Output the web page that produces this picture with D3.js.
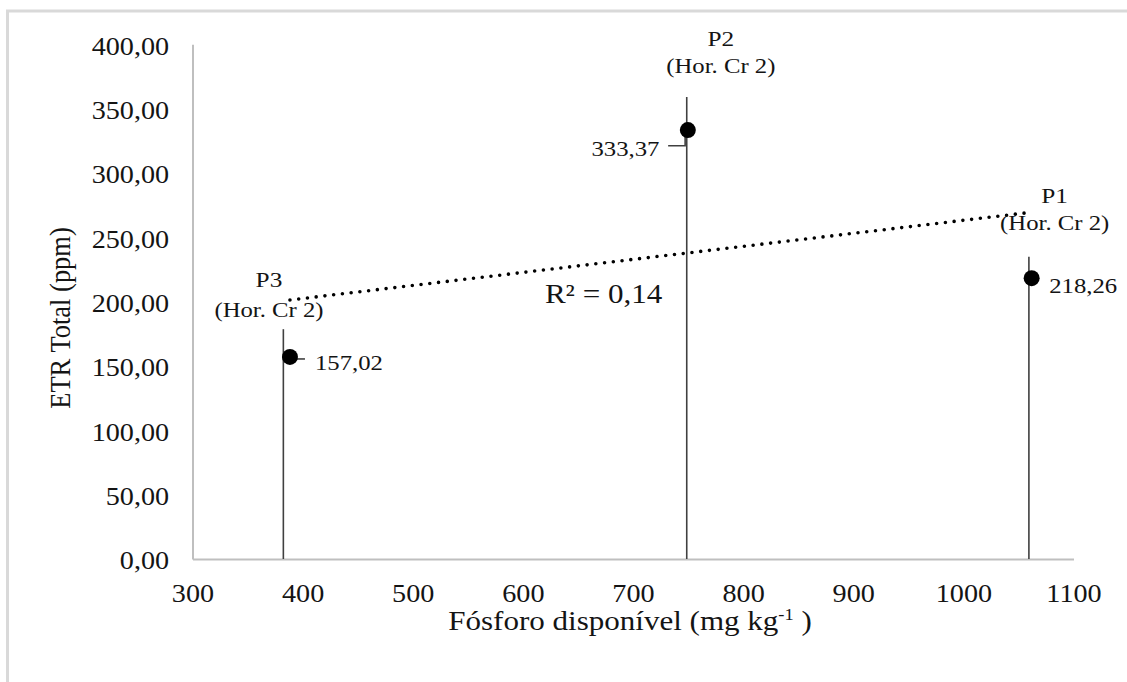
<!DOCTYPE html>
<html>
<head>
<meta charset="utf-8">
<script src="https://cdn.jsdelivr.net/npm/d3@7"></script>
<style>
  body { margin: 0; background: #fff; }
  svg { display: block; }
  text { font-family: "Liberation Serif", "Times New Roman", serif; fill: #141414; }
</style>
</head>
<body>
<svg id="chart" width="1127" height="682"></svg>
<script>
// ---- data ----
const pointNames = ["P3", "P2", "P1"];
const horizonNames = ["(Hor. Cr 2)", "(Hor. Cr 2)", "(Hor. Cr 2)"];
const phosphorus = [388.5, 749.8, 1062];      // Fósforo disponível (mg kg-1)
const etrTotal = [157.02, 333.37, 218.26];     // ETR Total (ppm)
const stemX = [382.5, 748.8, 1059.5];          // vertical reference lines
const stemTop = [178.6, 359.1, 234.8];
const xTicks = [300, 400, 500, 600, 700, 800, 900, 1000, 1100];
const yTicks = [0, 50, 100, 150, 200, 250, 300, 350, 400];
const rSquaredLabel = "R² = 0,14";
const rSquaredAt = [620, 199];

// label placement around each point (pixels from the marker)
const nameOffset = [[-21, -70, -40], [33, -84, -57], [23, -75, -48]];
const valueOffset = [[25, 13, "start"], [-28.4, 26, "end"], [17.6, 15, "start"]];

const SX = 1.15; // horizontal stretch applied to all lettering

const svg = d3.select("#chart");
const W = 1127, H = 682;

svg.append("rect").attr("width", W).attr("height", H).attr("fill", "#fff");
// outer frame (runs off the right and bottom edges)
svg.append("path")
  .attr("d", `M7.5,${H + 5} V11 H${W + 5}`)
  .attr("fill", "none").attr("stroke", "#d9d9d9").attr("stroke-width", 3);

const x = d3.scaleLinear().domain([300, 1100]).range([192.5, 1073.5]);
const y = d3.scaleLinear().domain([0, 400]).range([559, 44.3]);

const fmt = d3.formatLocale({ decimal: ",", thousands: ".", grouping: [3], currency: ["", ""] }).format(".2f");

// y axis
const gy = svg.append("g").attr("transform", `translate(${x(300)},0)`)
  .call(d3.axisLeft(y).tickValues(yTicks).tickSize(0).tickFormat(fmt));
gy.select(".domain").attr("stroke", "#bfbfbf").attr("stroke-width", 2);
gy.selectAll(".tick text")
  .attr("x", -23.4 / SX).attr("dy", "0.40em")
  .attr("transform", `scale(${SX},1)`)
  .style("font-size", "24.5px").style("font-family", "Liberation Serif, serif").attr("fill", "#141414");

// x axis
const gx = svg.append("g").attr("transform", `translate(0,${y(0)})`)
  .call(d3.axisBottom(x).tickValues(xTicks).tickSize(0).tickFormat(d3.format("d")));
gx.select(".domain").attr("stroke", "#bfbfbf").attr("stroke-width", 2);
gx.selectAll(".tick text")
  .attr("y", 43.5).attr("dy", 0)
  .attr("transform", `scale(${SX},1)`)
  .style("font-size", "24.5px").style("font-family", "Liberation Serif, serif").attr("fill", "#141414");

function label(px, py, txt, size, anchor) {
  return svg.append("text")
    .attr("transform", `translate(${px},${py}) scale(${SX},1)`)
    .attr("text-anchor", anchor || "middle")
    .style("font-size", size + "px")
    .text(txt);
}

// axis titles
const xt = svg.append("text")
  .attr("transform", `translate(630,630) scale(${SX},1)`)
  .attr("text-anchor", "middle")
  .style("font-size", "27px");
xt.append("tspan").text("Fósforo disponível (mg kg");
xt.append("tspan").attr("dy", -10).style("font-size", "16px").text("-1");
xt.append("tspan").attr("dy", 10).text(" )");

svg.append("text")
  .attr("transform", `translate(70,318) scale(${SX},1) rotate(-90)`)
  .attr("text-anchor", "middle")
  .style("font-size", "26.5px")
  .text("ETR Total (ppm)");

const pts = phosphorus.map((p, i) => ({ px: x(p), py: y(etrTotal[i]), i }));

// vertical reference lines
svg.append("g").selectAll("line").data(stemX).join("line")
  .attr("x1", d => x(d)).attr("x2", d => x(d))
  .attr("y1", y(0)).attr("y2", (d, i) => y(stemTop[i]))
  .attr("stroke", "#404040").attr("stroke-width", 1.6);

// linear trendline (least squares)
const mx = d3.mean(phosphorus), my = d3.mean(etrTotal);
const sxy = d3.sum(phosphorus, (p, i) => (p - mx) * (etrTotal[i] - my));
const sxx = d3.sum(phosphorus, p => (p - mx) * (p - mx));
const slope = sxy / sxx, icpt = my - slope * mx;
const x0 = d3.min(phosphorus), x1 = d3.max(phosphorus) - 3;
svg.append("line")
  .attr("x1", x(x0)).attr("y1", y(icpt + slope * x0))
  .attr("x2", x(x1)).attr("y2", y(icpt + slope * x1))
  .attr("stroke", "#000").attr("stroke-width", 3.6)
  .attr("stroke-linecap", "round").attr("stroke-dasharray", "0,8.8");

// leader lines for value labels
svg.append("line")
  .attr("x1", pts[0].px + 3).attr("x2", pts[0].px + 15)
  .attr("y1", pts[0].py + 2).attr("y2", pts[0].py + 2)
  .attr("stroke", "#404040").attr("stroke-width", 1.6);
svg.append("path")
  .attr("d", `M${pts[1].px - 19.7},${pts[1].py + 15.7} H${pts[1].px - 2.7} V${pts[1].py + 5}`)
  .attr("fill", "none").attr("stroke", "#404040").attr("stroke-width", 1.6);

// markers
svg.append("g").selectAll("circle").data(pts).join("circle")
  .attr("cx", d => d.px).attr("cy", d => d.py).attr("r", 8)
  .attr("fill", "#000");

// labels
pts.forEach(d => {
  const [ndx, ndy, hdy] = nameOffset[d.i];
  label(d.px + ndx, d.py + ndy, pointNames[d.i], 22);
  label(d.px + ndx, d.py + hdy, horizonNames[d.i], 21.5);
  const [vdx, vdy, anc] = valueOffset[d.i];
  label(d.px + vdx, d.py + vdy, fmt(etrTotal[d.i]), 21.5, anc);
});

label(x(rSquaredAt[0]), y(rSquaredAt[1]), rSquaredLabel, 27, "start");
</script>
</body>
</html>
